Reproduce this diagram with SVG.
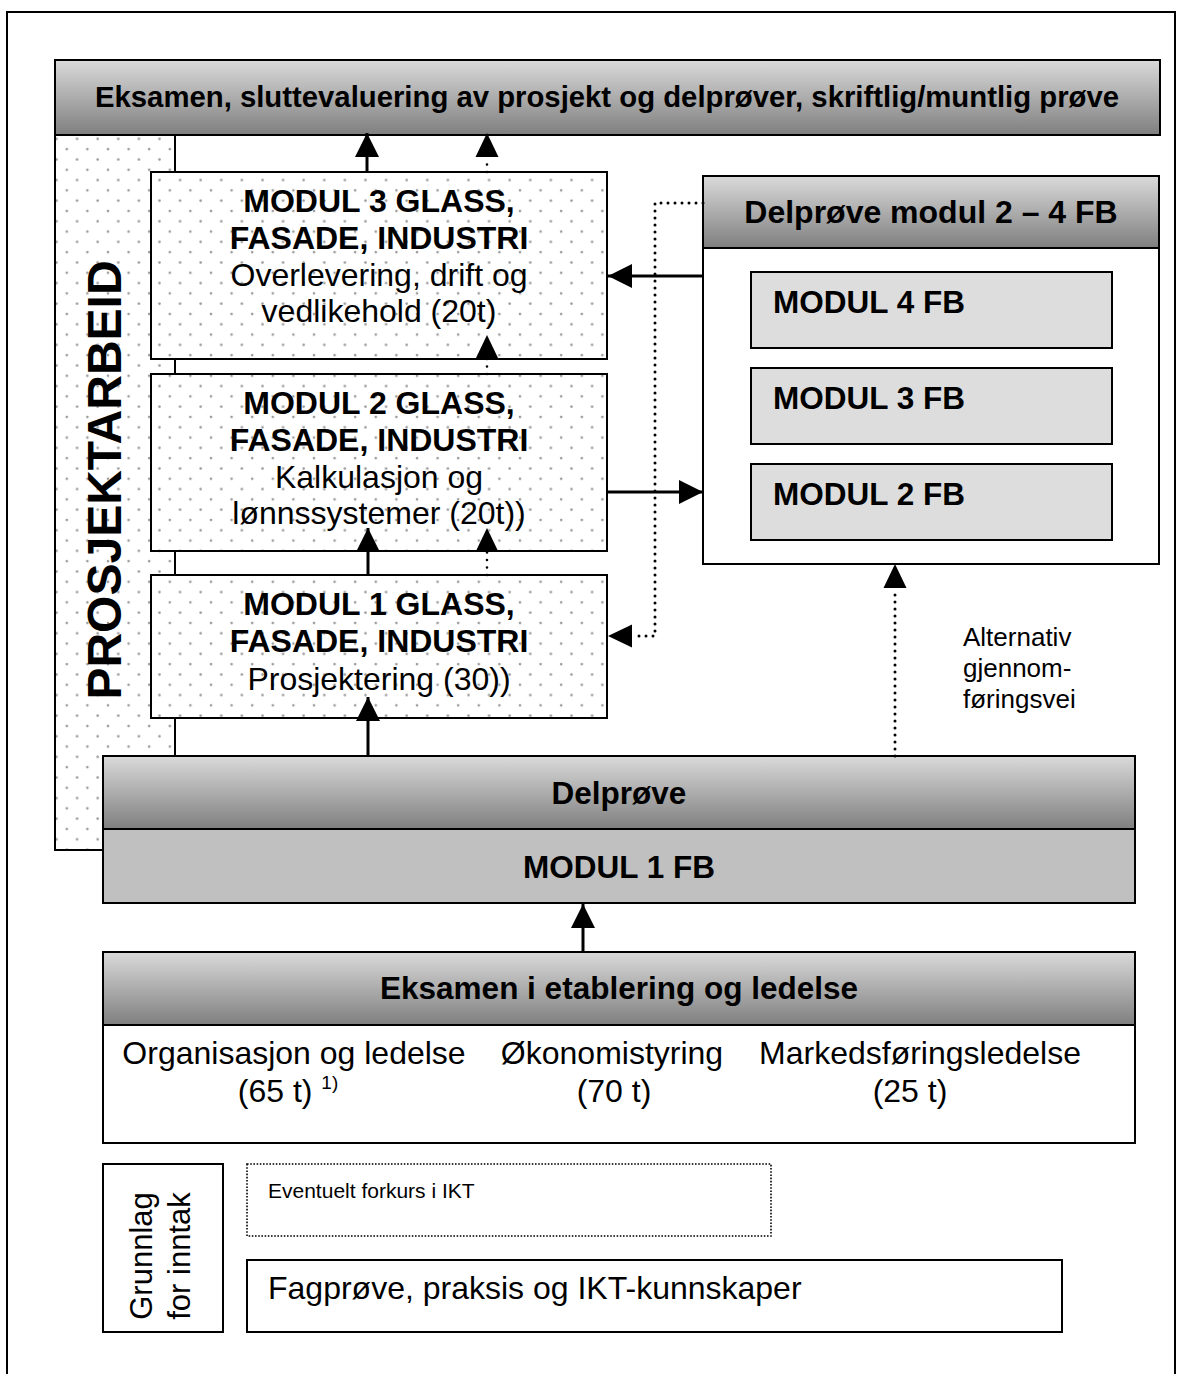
<svg xmlns="http://www.w3.org/2000/svg" width="1182" height="1374" viewBox="0 0 1182 1374">
<defs>
<linearGradient id="hg" x1="0" y1="0" x2="0" y2="1">
<stop offset="0" stop-color="#dadada"/>
<stop offset="1" stop-color="#7f7f7f"/>
</linearGradient>
<pattern id="dots" width="20.6" height="20.6" patternUnits="userSpaceOnUse">
<rect width="20.6" height="20.6" fill="#ffffff"/>
<circle cx="5" cy="5" r="1.3" fill="#9a9a9a"/>
<circle cx="15.3" cy="15.3" r="1.3" fill="#9a9a9a"/>
</pattern>
<marker id="ah" viewBox="0 0 24 24" refX="24" refY="12" markerWidth="24" markerHeight="24" markerUnits="userSpaceOnUse" orient="auto">
<path d="M0,0 L24,12 L0,24 Z" fill="#000"/>
</marker>
</defs>
<style>
.box{stroke:#000;stroke-width:2}
.b{font-family:"Liberation Sans",Arial,sans-serif;font-weight:bold;fill:#000}
.r{font-family:"Liberation Sans",Arial,sans-serif;fill:#000}
.solid{stroke:#000;stroke-width:3;fill:none}
.dot{stroke:#000;stroke-width:3;fill:none;stroke-dasharray:0 7;stroke-linecap:round}
.dot2{stroke:#000;stroke-width:2.6;fill:none;stroke-dasharray:0 7.5;stroke-linecap:round}
</style>
<rect x="0" y="0" width="1182" height="1374" fill="#fff"/>
<rect x="7" y="12" width="1168" height="1380" fill="none" stroke="#000" stroke-width="2"/>

<g id="prosjektarbeid">
<rect class="box" x="55" y="135" width="120" height="715" fill="url(#dots)"/>
<text class="b" font-size="48" text-anchor="middle" transform="translate(121,480) rotate(-90)">PROSJEKTARBEID</text>
</g>

<g id="eksamen-top">
<rect class="box" x="55" y="60" width="1105" height="75" fill="url(#hg)"/>
<text class="b" font-size="29.3" x="607" y="107" text-anchor="middle">Eksamen, sluttevaluering av prosjekt og delprøver, skriftlig/muntlig prøve</text>
</g>

<g id="modul3">
<rect class="box" x="151" y="172" width="456" height="187" fill="url(#dots)"/>
<text class="b" font-size="32" x="379" y="212" text-anchor="middle">MODUL 3 GLASS,</text>
<text class="b" font-size="32" x="379" y="249" text-anchor="middle">FASADE, INDUSTRI</text>
<text class="r" font-size="32" x="379" y="286" text-anchor="middle">Overlevering, drift og</text>
<text class="r" font-size="32" x="379" y="322" text-anchor="middle">vedlikehold (20t)</text>
</g>

<g id="modul2">
<rect class="box" x="151" y="374" width="456" height="177" fill="url(#dots)"/>
<text class="b" font-size="32" x="379" y="414" text-anchor="middle">MODUL 2 GLASS,</text>
<text class="b" font-size="32" x="379" y="451" text-anchor="middle">FASADE, INDUSTRI</text>
<text class="r" font-size="32" x="379" y="488" text-anchor="middle">Kalkulasjon og</text>
<text class="r" font-size="32" x="379" y="524" text-anchor="middle">lønnssystemer (20t))</text>
</g>

<g id="modul1">
<rect class="box" x="151" y="575" width="456" height="143" fill="url(#dots)"/>
<text class="b" font-size="32" x="379" y="615" text-anchor="middle">MODUL 1 GLASS,</text>
<text class="b" font-size="32" x="379" y="652" text-anchor="middle">FASADE, INDUSTRI</text>
<text class="r" font-size="32" x="379" y="690" text-anchor="middle">Prosjektering (30))</text>
</g>

<g id="delprove-2-4">
<rect class="box" x="703" y="176" width="456" height="388" fill="#fff"/>
<rect class="box" x="703" y="176" width="456" height="72" fill="url(#hg)"/>
<text class="b" font-size="32" x="931" y="223" text-anchor="middle">Delprøve modul 2 – 4 FB</text>
</g>
<g id="modul4fb">
<rect class="box" x="751" y="272" width="361" height="76" fill="#dddddd"/>
<text class="b" font-size="31.5" x="773" y="313">MODUL 4 FB</text>
</g>
<g id="modul3fb">
<rect class="box" x="751" y="368" width="361" height="76" fill="#dddddd"/>
<text class="b" font-size="31.5" x="773" y="409">MODUL 3 FB</text>
</g>
<g id="modul2fb">
<rect class="box" x="751" y="464" width="361" height="76" fill="#dddddd"/>
<text class="b" font-size="31.5" x="773" y="505">MODUL 2 FB</text>
</g>

<g id="alternativ-label">
<text class="r" font-size="26" x="963" y="646">Alternativ</text>
<text class="r" font-size="26" x="963" y="677">gjennom-</text>
<text class="r" font-size="26" x="963" y="708">føringsvei</text>
</g>

<g id="delprove-modul1fb">
<rect class="box" x="103" y="756" width="1032" height="73" fill="url(#hg)"/>
<text class="b" font-size="31.5" x="619" y="804" text-anchor="middle">Delprøve</text>
<rect class="box" x="103" y="829" width="1032" height="74" fill="#c0c0c0"/>
<text class="b" font-size="31.5" x="619" y="878" text-anchor="middle">MODUL 1 FB</text>
</g>

<g id="eksamen-etablering">
<rect class="box" x="103" y="952" width="1032" height="191" fill="#fff"/>
<rect class="box" x="103" y="952" width="1032" height="73" fill="url(#hg)"/>
<text class="b" font-size="31.5" x="619" y="999" text-anchor="middle">Eksamen i etablering og ledelse</text>
<text class="r" font-size="32" x="294" y="1064" text-anchor="middle">Organisasjon og ledelse</text>
<text class="r" font-size="32" x="288" y="1102" text-anchor="middle">(65 t) <tspan font-size="19" dy="-13">1)</tspan></text>
<text class="r" font-size="32" x="612" y="1064" text-anchor="middle">Økonomistyring</text>
<text class="r" font-size="32" x="614" y="1102" text-anchor="middle">(70 t)</text>
<text class="r" font-size="32" x="920" y="1064" text-anchor="middle">Markedsføringsledelse</text>
<text class="r" font-size="32" x="910" y="1102" text-anchor="middle">(25 t)</text>
</g>

<g id="grunnlag">
<rect class="box" x="103" y="1164" width="120" height="168" fill="#fff"/>
<text class="r" font-size="31" text-anchor="middle" transform="translate(152,1256) rotate(-90)">Grunnlag</text>
<text class="r" font-size="31" text-anchor="middle" transform="translate(190,1256) rotate(-90)">for inntak</text>
</g>

<g id="forkurs">
<rect x="247" y="1164" width="524" height="72" fill="#fff" stroke="#000" stroke-width="1.6" stroke-dasharray="1.6 1.6"/>
<text class="r" font-size="21" x="268" y="1198">Eventuelt forkurs i IKT</text>
</g>

<g id="fagprove">
<rect class="box" x="247" y="1260" width="815" height="72" fill="#fff"/>
<text class="r" font-size="32" x="268" y="1299">Fagprøve, praksis og IKT-kunnskaper</text>
</g>

<g id="connectors">
<line class="solid" x1="367" y1="172" x2="367" y2="133" marker-end="url(#ah)"/>
<line class="dot2" x1="487" y1="172" x2="487" y2="158"/>
<path d="M475.5,157 L487,133 L498.5,157 Z" fill="#000"/>
<line class="dot2" x1="487" y1="374" x2="487" y2="358"/>
<path d="M475.5,359 L487,335 L498.5,359 Z" fill="#000"/>
<line class="solid" x1="368" y1="575" x2="368" y2="528" marker-end="url(#ah)"/>
<line class="dot2" x1="487" y1="575" x2="487" y2="552"/>
<path d="M475.5,552 L487,528 L498.5,552 Z" fill="#000"/>
<line class="solid" x1="368" y1="756" x2="368" y2="697" marker-end="url(#ah)"/>
<line class="solid" x1="703" y1="276" x2="608" y2="276" marker-end="url(#ah)"/>
<line class="solid" x1="607" y1="492" x2="703" y2="492" marker-end="url(#ah)"/>
<polyline class="dot" points="703,203 655,203 655,636 634,636"/>
<path d="M632,624.5 L608,636 L632,647.5 Z" fill="#000"/>
<line class="dot" x1="895" y1="756" x2="895" y2="588"/>
<path d="M883.5,588 L895,564 L906.5,588 Z" fill="#000"/>
<line class="solid" x1="583" y1="952" x2="583" y2="904" marker-end="url(#ah)"/>
</g>
</svg>
